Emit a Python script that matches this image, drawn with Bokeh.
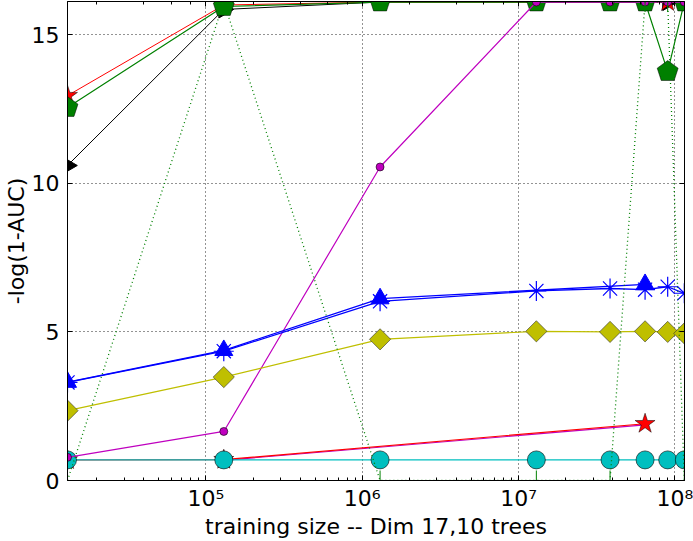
import numpy as np
from bokeh.plotting import figure
from bokeh.models import Range1d, LogAxis, LinearAxis, LogTicker, FixedTicker, CustomJSTickFormatter
from bokeh.embed import file_html
from bokeh.resources import INLINE

# ---- data ----
sizes = [1.3e4, 1.3e5, 1.3e6, 1.3e7, 3.85e7, 6.45e7, 9.0e7, 1.15e8]
cyan_vals = [0.693, 0.693, 0.693, 0.693, 0.693, 0.693, 0.693, 0.693]
magenta_vals = [0.78, 1.65, 10.55, 16.1, 16.1, 16.1, 16.1, 16.1]
yellow_vals = [2.35, 3.48, 4.75, 5.02, 5.0, 5.02, 5.0, 4.95]
blue_ast_vals = [3.3, 4.35, 6.03, 6.38, 6.46, 6.42, 6.52, 6.3]
green_pent_vals = [12.55, 15.95, 16.1, 16.1, 16.1, 16.1, 13.76, 16.1]
red_top_vals = [12.95, 16.0, 16.1, 16.1, 16.1, 16.1, 16.1, 16.1]
black_vals = [10.6, 15.85, 16.1, 16.1, 16.1, 16.1, 16.1, 16.1]
green_dot_vals = [0.0, 16.1, 0.0, 0.0, 0.0, 16.1, 16.1, 0.0]

tri_sizes = [1.3e4, 1.3e5, 1.3e6, 6.45e7]
blue_tri_vals = [3.31, 4.38, 6.12, 6.6]

star_sizes = [1.3e4, 1.3e5, 6.45e7]
red_star_vals = [0.69, 0.70, 1.91]
mag_low_sizes = [1.3e5, 6.45e7]
mag_low_vals = [0.68, 1.87]

y_ticks = [0, 5, 10, 15]
x_label = "training size -- Dim 17,10 trees"
y_label = "-log(1-AUC)"

B, G, R, C, M, Y, K = "#0000ff", "#008000", "#ff0000", "#00bfbf", "#bf00bf", "#bfbf00", "#000000"
FONT = "DejaVu Sans"
FS = "22px"

p = figure(width=693, height=541, x_axis_type="log",
           x_range=Range1d(1.3e4, 1.153e8), y_range=Range1d(0, 16.118),
           output_backend="svg", toolbar_location=None,
           min_border_left=64, min_border_right=9, min_border_top=1, min_border_bottom=61)
p.outline_line_color = "black"
p.outline_line_width = 1

sup_code = """
const sup = {"0":"\u2070","1":"\u00b9","2":"\u00b2","3":"\u00b3","4":"\u2074","5":"\u2075","6":"\u2076","7":"\u2077","8":"\u2078","9":"\u2079","-":"\u207b"};
const e = Math.round(Math.log10(tick));
return "10" + String(e).split("").map(c => sup[c]).join("");
"""
xa = p.xaxis[0]
xa.formatter = CustomJSTickFormatter(code=sup_code)
ya = p.yaxis[0]
ya.ticker = FixedTicker(ticks=y_ticks)

for ax in (xa, ya):
    ax.major_tick_in = 5
    ax.major_tick_out = 0
    ax.minor_tick_in = 3
    ax.minor_tick_out = 0
    ax.major_label_text_font = FONT
    ax.major_label_text_font_size = FS
    ax.major_label_text_color = "black"
    ax.axis_label_text_font = FONT
    ax.axis_label_text_font_size = FS
    ax.axis_label_text_font_style = "normal"
    ax.axis_label_text_color = "black"
    ax.axis_line_color = "black"
xa.axis_label = x_label
ya.axis_label = y_label
xa.major_label_standoff = 5
xa.axis_label_standoff = 0
ya.major_label_standoff = 8
ya.axis_label_standoff = 0

# top and right tick-only axes
top = LogAxis(ticker=LogTicker(), formatter=CustomJSTickFormatter(code="return '';"))
right = LinearAxis(ticker=FixedTicker(ticks=y_ticks), formatter=CustomJSTickFormatter(code="return '';"))
for ax in (top, right):
    ax.major_tick_in = 5
    ax.major_tick_out = 0
    ax.minor_tick_in = 3
    ax.minor_tick_out = 0
    ax.major_label_standoff = 0
    ax.major_label_text_font_size = "1px"
    ax.axis_line_color = "black"
right.minor_tick_in = 0
p.add_layout(top, "above")
p.add_layout(right, "right")

for g in (p.xgrid[0], p.ygrid[0]):
    g.grid_line_color = "black"
    g.grid_line_dash = "1 3"
    g.grid_line_width = 1
    g.grid_line_alpha = 0.85
p.ygrid[0].ticker = FixedTicker(ticks=y_ticks)

# ---- series ----
# bottom red stars (with magenta underneath)
p.line(mag_low_sizes, mag_low_vals, line_color=M, line_width=1.2)
p.line(star_sizes, red_star_vals, line_color=R, line_width=1.2)
p.scatter(star_sizes, red_star_vals, marker="star", size=21, fill_color=R, line_color="black", line_width=0.5)

# black right triangles
p.line(sizes, black_vals, line_color=K, line_width=1)
p.scatter(sizes, black_vals, marker="triangle", angle=-np.pi / 2, size=17, fill_color=K, line_color=K)

# red top stars
p.line(sizes, red_top_vals, line_color=R, line_width=1)
p.scatter(sizes, red_top_vals, marker="star", size=21, fill_color=R, line_color="black", line_width=0.5)

# green pentagons
p.line(sizes, green_pent_vals, line_color=G, line_width=1.2)
p.ngon(sizes, green_pent_vals, radius=11, radius_units="screen", n=5, angle=0,
       fill_color=G, line_color="black", line_width=0.5)

# cyan circles
p.line(sizes, cyan_vals, line_color=C, line_width=1.2)
p.scatter(sizes, cyan_vals, marker="circle", size=18, fill_color=C, line_color="black", line_width=0.6)

# magenta small circles
p.line(sizes, magenta_vals, line_color=M, line_width=1.2)
p.scatter(sizes, magenta_vals, marker="circle", size=8, fill_color=M, line_color="black", line_width=0.6)

# yellow diamonds
p.line(sizes, yellow_vals, line_color=Y, line_width=1.2)
p.scatter(sizes, yellow_vals, marker="square", angle=np.pi / 4, size=15, fill_color=Y, line_color="#333333", line_width=0.6)

# blue triangles
p.line(tri_sizes, blue_tri_vals, line_color=B, line_width=1.3)
p.scatter(tri_sizes, blue_tri_vals, marker="triangle", size=18, fill_color=B, line_color=B)

# blue asterisks
p.line(sizes, blue_ast_vals, line_color=B, line_width=1.3)
p.scatter(sizes, blue_ast_vals, marker="asterisk", size=20, line_color=B, line_width=1.2)

# green dotted with vertical bar markers
p.line(sizes, green_dot_vals, line_color=G, line_width=1.3, line_dash="1 3")
p.scatter(sizes, green_dot_vals, marker="dash", angle=np.pi / 2, size=20, line_color=G, line_width=1)

open("out.html", "w").write(file_html(p, INLINE))
